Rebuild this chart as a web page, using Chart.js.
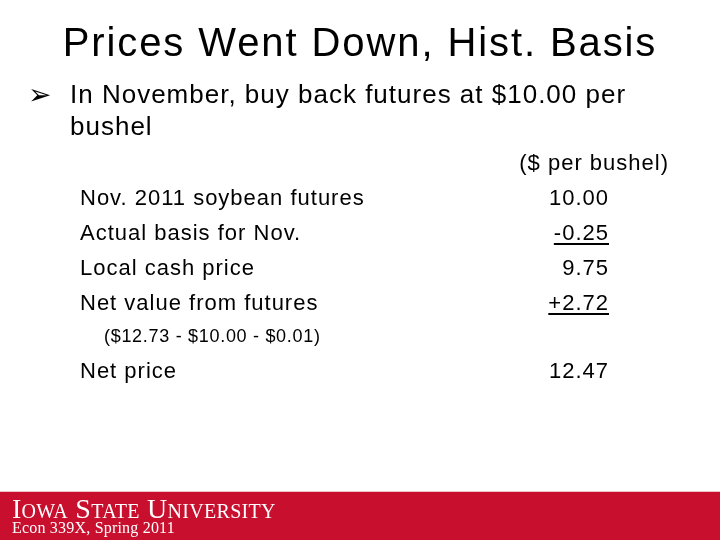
<!DOCTYPE html>
<html><head><meta charset="utf-8">
<script src="https://cdn.jsdelivr.net/npm/chart.js@4"></script>
<style>
html,body{margin:0;padding:0;width:720px;height:540px;overflow:hidden;background:#fff;font-family:"Liberation Sans",Arial,sans-serif;}
#wrap{position:relative;width:720px;height:540px;}
#c{position:absolute;left:0;top:0;}
.t{position:absolute;white-space:nowrap;color:#000;letter-spacing:1px;}
.r{text-align:right;}
.u{text-decoration:underline;text-underline-offset:3px;}
</style></head><body>
<div id="wrap">
<canvas id="c" width="720" height="540"></canvas>
<div id="txt"></div>
</div>
<script>
const title = "Prices Went Down, Hist. Basis";
const bulletLines = ["In November, buy back futures at $10.00 per", "bushel"];
const unitsLabel = "($ per bushel)";
const rowLabels = ["Nov. 2011 soybean futures","Actual basis for Nov.","Local cash price","Net value from futures"];
const rowValues = ["10.00","-0.25","9.75","+2.72"];
const underlined = [false,true,false,true];
const noteText = "($12.73 - $10.00 - $0.01)";
const netLabel = "Net price";
const netValue = "12.47";
const footerTitle = "Iowa State University";
const footerSub = "Econ 339X, Spring 2011";

const T = document.getElementById('txt');
function add(text, css, cls){const d=document.createElement('div');d.className='t '+(cls||'');d.textContent=text;d.style.cssText=css;T.appendChild(d);return d;}
add(title,"left:0;width:720px;text-align:center;top:20px;font-size:40px;letter-spacing:1.9px;");
add("➢","left:28px;top:78px;font-size:28px;letter-spacing:0;");
add(bulletLines[0],"left:70px;top:79px;font-size:26px;");
add(bulletLines[1],"left:70px;top:111px;font-size:26px;");
add(unitsLabel,"right:52px;top:150px;font-size:22px;margin-right:-1px;",'r');
rowLabels.forEach((l,i)=>{
  add(l,`left:80px;top:${185+i*35}px;font-size:22px;`);
  add(rowValues[i],`right:111px;top:${185+i*35}px;font-size:22px;`,'r'+(underlined[i]?' u':''));
});
add(noteText,"left:104px;top:326px;font-size:18px;letter-spacing:0.7px;");
add(netLabel,"left:80px;top:358px;font-size:22px;");
add(netValue,"right:111px;top:358px;font-size:22px;",'r');
add(footerTitle,"left:12px;top:493px;font-size:28px;color:#fff;font-family:'Liberation Serif','DejaVu Serif',serif;font-variant:small-caps;letter-spacing:0.3px;");
add(footerSub,"left:12px;top:519px;font-size:16px;color:#fff;font-family:'Liberation Serif','DejaVu Serif',serif;letter-spacing:0.2px;");

// Chart.js background: red footer band as a single bar on a 0-540 scale
const bandRange = [[0,48]];
new Chart(document.getElementById('c'),{
  type:'bar',
  data:{labels:[''],datasets:[{data:bandRange,backgroundColor:'#C8102E',barPercentage:1,categoryPercentage:1,borderWidth:0}]},
  options:{responsive:false,animation:false,events:[],
    layout:{padding:0},
    plugins:{legend:{display:false},tooltip:{enabled:false}},
    scales:{x:{display:false},y:{display:false,min:0,max:540}}}
});
</script>
</body></html>
